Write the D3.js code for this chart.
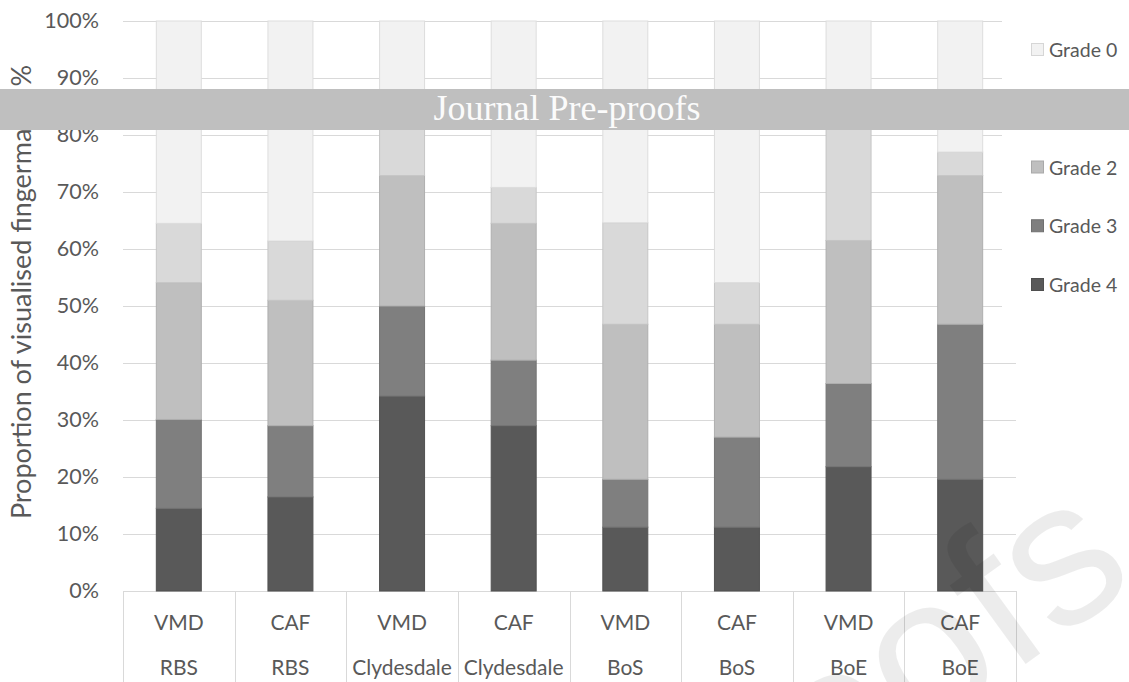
<!DOCTYPE html>
<html>
<head>
<meta charset="utf-8">
<script src="https://cdn.jsdelivr.net/npm/d3@7"></script>
<style>
  html, body { margin: 0; padding: 0; background: #fff; }
  svg { display: block; }
  text { font-family: Lato, "Noto Sans", sans-serif; }
</style>
</head>
<body>
<svg id="chart" width="1129" height="682"></svg>
<script>
// Development method and bank for each bar (two-level category axis)
const methods = ["VMD", "CAF", "VMD", "CAF", "VMD", "CAF", "VMD", "CAF"];
const banks = ["RBS", "RBS", "Clydesdale", "Clydesdale", "BoS", "BoS", "BoE", "BoE"];

// Share of visualised fingermarks per grade (%), one value per bar
const grade4 = [14.5, 16.5, 34.2, 29.0, 11.2, 11.2, 21.8, 19.6];
const grade3 = [15.6, 12.5, 15.8, 11.5, 8.4, 15.8, 14.6, 27.2];
const grade2 = [24.0, 22.0, 22.9, 24.0, 27.2, 19.8, 25.1, 26.1];
const grade1 = [10.4, 10.4, 11.4, 6.3, 17.8, 7.3, 22.5, 4.1];
const grade0 = [35.5, 38.6, 15.7, 29.2, 35.4, 45.9, 16.0, 23.0];

const gradeNames = ["Grade 4", "Grade 3", "Grade 2", "Grade 1", "Grade 0"];
const gradeColors = ["#595959", "#7f7f7f", "#bfbfbf", "#d9d9d9", "#f2f2f2"];
const yTicks = [0, 10, 20, 30, 40, 50, 60, 70, 80, 90, 100];

const rows = methods.map((m, i) => ({
  key: i,
  "Grade 4": grade4[i],
  "Grade 3": grade3[i],
  "Grade 2": grade2[i],
  "Grade 1": grade1[i],
  "Grade 0": grade0[i]
}));

const svg = d3.select("#chart");
const W = 1129, H = 682;
const plot = { left: 123, right: 1016, top: 21, bottom: 591 };
const textColor = "#595959";
const gridColor = "#d9d9d9";

const x = d3.scaleBand()
  .domain(d3.range(methods.length))
  .range([plot.left, plot.right])
  .paddingInner(0.597)
  .paddingOuter(0.2985);

const xCell = d3.scaleBand()
  .domain(d3.range(methods.length))
  .range([plot.left, plot.right]);

const y = d3.scaleLinear().domain([0, 100]).range([plot.bottom, plot.top]);

const color = d3.scaleOrdinal().domain(gradeNames).range(gradeColors);

// Horizontal gridlines
svg.append("g")
  .selectAll("line")
  .data(yTicks)
  .join("line")
  .attr("x1", plot.left).attr("x2", plot.right)
  .attr("y1", d => Math.round(y(d)) + 0.5).attr("y2", d => Math.round(y(d)) + 0.5)
  .attr("stroke", gridColor).attr("stroke-width", 1);

// Y axis tick labels
const yAxis = d3.axisLeft(y).tickValues(yTicks).tickFormat(d => d + "%").tickSize(0).tickPadding(0);
const gy = svg.append("g").attr("transform", "translate(99,0)").call(yAxis);
gy.select(".domain").remove();
gy.selectAll("text")
  .attr("fill", textColor)
  .style("font-size", "21.5px")
  .style("font-family", "Lato, sans-serif");

// Stacked bars
const stack = d3.stack().keys(gradeNames);
const series = stack(rows);

svg.append("g")
  .selectAll("g")
  .data(series)
  .join("g")
  .attr("fill", d => color(d.key))
  .attr("stroke", d => d3.color(color(d.key)).darker(0.25))
  .attr("stroke-width", 1)
  .selectAll("rect")
  .data(d => d)
  .join("rect")
  .attr("x", (d, i) => x(i))
  .attr("width", x.bandwidth())
  .attr("y", d => y(d[1]))
  .attr("height", d => y(d[0]) - y(d[1]));

// Category axis: cell dividers and two rows of labels
const cat = svg.append("g");
const dividers = d3.range(methods.length + 1).map(i => i < methods.length ? xCell(i) : plot.right);
cat.selectAll("line.div")
  .data(dividers)
  .join("line")
  .attr("class", "div")
  .attr("x1", d => Math.round(d) + 0.5).attr("x2", d => Math.round(d) + 0.5)
  .attr("y1", plot.bottom).attr("y2", H)
  .attr("stroke", gridColor).attr("stroke-width", 1);

cat.selectAll("text.method")
  .data(methods)
  .join("text")
  .attr("class", "method")
  .attr("x", (d, i) => xCell(i) + xCell.bandwidth() / 2)
  .attr("y", 630)
  .attr("text-anchor", "middle")
  .attr("fill", textColor)
  .style("font-size", "21px")
  .text(d => d);

cat.selectAll("text.bank")
  .data(banks)
  .join("text")
  .attr("class", "bank")
  .attr("x", (d, i) => xCell(i) + xCell.bandwidth() / 2)
  .attr("y", 675)
  .attr("text-anchor", "middle")
  .attr("fill", textColor)
  .style("font-size", "21px")
  .text(d => d);

// Y axis title
svg.append("text")
  .attr("transform", "translate(31,292) rotate(-90)")
  .attr("text-anchor", "middle")
  .attr("fill", textColor)
  .style("font-size", "27px")
  .text("Proportion of visualised fingermarks %");

// Legend (top grade first)
const legend = svg.append("g");
legend.append("rect")
  .attr("x", 1002).attr("y", plot.top - 1)
  .attr("width", W - 1002).attr("height", 300)
  .attr("fill", "#fff");

const legendOrder = gradeNames.slice().reverse();
const legendY = d3.scalePoint().domain(legendOrder).range([50, 285]);
const item = legend.selectAll("g.item")
  .data(legendOrder)
  .join("g")
  .attr("class", "item")
  .attr("transform", d => `translate(0,${legendY(d)})`);
item.append("rect")
  .attr("x", 1031.5).attr("y", -6.5)
  .attr("width", 12).attr("height", 12)
  .attr("fill", d => color(d))
  .attr("stroke", d => d3.color(color(d)).darker(0.35))
  .attr("stroke-width", 1);
item.append("text")
  .attr("x", 1049).attr("y", 0)
  .attr("dy", "0.36em")
  .attr("fill", textColor)
  .style("font-size", "19.5px")
  .text(d => d);

// Faint diagonal watermark
svg.append("text")
  .attr("transform", "translate(1140,581) rotate(-36)")
  .attr("text-anchor", "end")
  .attr("fill", "#000")
  .attr("fill-opacity", 0.075)
  .style("font-family", "'Liberation Sans', Arial, sans-serif")
  .style("font-size", "205px")
  .text("Journal Pre-proofs");

// Banner across the page
svg.append("rect")
  .attr("x", 0).attr("y", 89)
  .attr("width", W).attr("height", 41)
  .attr("fill", "#bfbfbf");
svg.append("text")
  .attr("x", 567).attr("y", 120)
  .attr("text-anchor", "middle")
  .attr("fill", "#fbfbfb")
  .style("font-family", "'Liberation Serif', 'Times New Roman', serif")
  .style("font-size", "36px")
  .text("Journal Pre-proofs");
</script>
</body>
</html>
